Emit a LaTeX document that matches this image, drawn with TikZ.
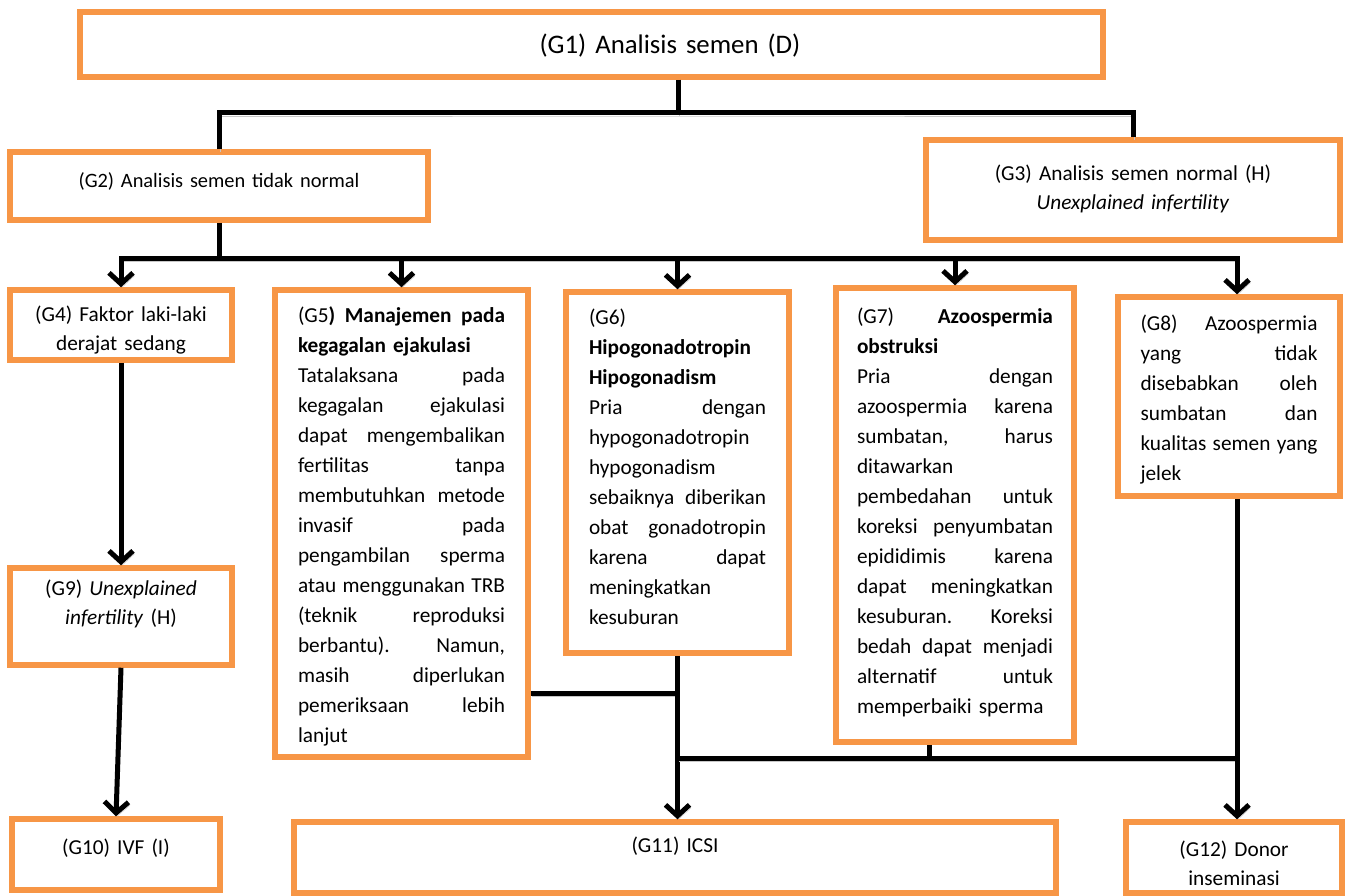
\documentclass[tikz,border=0pt]{standalone}
\usepackage{fontspec}
\setmainfont{Carlito}
\usetikzlibrary{arrows.meta}
\definecolor{boxorange}{HTML}{F79646}
% one justified line: words separated by \hfill
\newcommand\jl[1]{\leavevmode\hbox to\linewidth{#1}}

\begin{document}
\begin{tikzpicture}[x=1pt,y=-1pt,
  box/.style={draw=boxorange, line width=5.5pt, inner sep=0pt,
    font=\fontsize{21.3}{30}\selectfont},
  % width, text width, first baseline below top border, remaining height
  geom/.style n args={4}{minimum width=#1, text width=#2,
    text height=#3, text depth=#4},
  conn/.style={line width=5pt, black,
    preaction={draw=black!22, transform canvas={xshift=1.5pt,yshift=-3pt}}},
  spine/.style={conn, line cap=rect},
  arr/.style={conn, -{Straight Barb[length=11pt,width=24pt]}}]

\useasboundingbox (0,0) rectangle (1351,896);

% ---- boxes ----
\node[box, geom={1023}{1023}{42}{23}, align=center,
  font=\fontsize{26.8}{32}\selectfont] (g1) at (591.5,44.5)
  {\hspace*{157pt}(G1) Analisis semen (D)};

\node[box, geom={418}{380}{36}{32}, align=center,
  font=\fontsize{20.4}{30}\selectfont] (g2) at (219,186)
  {(G2) Analisis semen tidak normal};

\node[box, geom={414}{380}{41}{59}, align=center,
  font=\fontsize{21.3}{29}\selectfont] (g3) at (1133,190)
  {(G3) Analisis semen normal (H)\\\textit{Unexplained infertility}};

\node[box, geom={222}{200}{31}{39}, align=center,
  font=\fontsize{21.3}{29}\selectfont] (g4) at (121,325)
  {(G4) Faktor laki-laki\\derajat sedang};

\node[box, geom={253}{207}{32}{435}, align=left] (g5) at (401.5,523.5)
  {\jl{(G5\textbf{)\hfill Manajemen\hfill pada}}\\
   \textbf{kegagalan ejakulasi}\\
   \jl{Tatalaksana\hfill pada}\\
   \jl{kegagalan\hfill ejakulasi}\\
   \jl{dapat\hfill mengembalikan}\\
   \jl{fertilitas\hfill tanpa}\\
   \jl{membutuhkan\hfill metode}\\
   \jl{invasif\hfill pada}\\
   \jl{pengambilan\hfill sperma}\\
   \jl{atau\hfill menggunakan\hfill TRB}\\
   \jl{(teknik\hfill reproduksi}\\
   \jl{berbantu).\hfill Namun,}\\
   \jl{masih\hfill diperlukan}\\
   \jl{pemeriksaan\hfill lebih}\\
   lanjut};

\node[box, geom={223}{177}{32}{329}, align=left] (g6) at (677.5,472.5)
  {(G6)\\
   \textbf{Hipogonadotropin}\\
   \textbf{Hipogonadism}\\
   \jl{Pria\hfill dengan}\\
   hypogonadotropin\\
   hypogonadism\\
   \jl{sebaiknya\hfill diberikan}\\
   \jl{obat\hfill gonadotropin}\\
   \jl{karena\hfill dapat}\\
   meningkatkan\\
   kesuburan};

\node[box, geom={238}{196}{35}{419}, align=left] (g7) at (955,515)
  {\jl{(G7)\hfill\textbf{Azoospermia}}\\
   \textbf{obstruksi}\\
   \jl{Pria\hfill dengan}\\
   \jl{azoospermia\hfill karena}\\
   \jl{sumbatan,\hfill harus}\\
   ditawarkan\\
   \jl{pembedahan\hfill untuk}\\
   \jl{koreksi\hfill penyumbatan}\\
   \jl{epididimis\hfill karena}\\
   \jl{dapat\hfill meningkatkan}\\
   \jl{kesuburan.\hfill Koreksi}\\
   \jl{bedah\hfill dapat\hfill menjadi}\\
   \jl{alternatif\hfill untuk}\\
   memperbaiki sperma};

\node[box, geom={222}{177}{33}{166}, align=left] (g8) at (1229,396.5)
  {\jl{(G8)\hfill Azoospermia}\\
   \jl{yang\hfill tidak}\\
   \jl{disebabkan\hfill oleh}\\
   \jl{sumbatan\hfill dan}\\
   \jl{kualitas\hfill semen\hfill yang}\\
   jelek};

\node[box, geom={222}{200}{27}{70}, align=center,
  font=\fontsize{21.3}{29}\selectfont] (g9) at (121,616.5)
  {(G9) \textit{Unexplained}\\\textit{infertility} (H)};

\node[box, geom={208}{190}{35}{36}, align=center] (g10) at (116,854.5)
  {(G10) IVF (I)};

\node[box, geom={762}{700}{30}{41}, align=center] (g11) at (675,857.5)
  {(G11) ICSI};

\node[box, geom={216}{190}{34}{37}, align=center,
  font=\fontsize{21.3}{29}\selectfont] (g12) at (1234,857.5)
  {(G12) Donor\\inseminasi};

% ---- junction points ----
\coordinate (j1) at (678,113);
\coordinate (j2) at (0,258);
\coordinate (j3) at (0,693);
\coordinate (j4) at (0,758);
\coordinate (c8) at (1237,0);
\coordinate (t7) at (929,0);

% ---- connectors ----
\draw[conn] (g1.south -| j1) -- (j1);
\draw[conn] (g2.north) |- (j1) -| (g3.north);

\draw[conn] (g2.south) -- (g2.south |- j2);
\draw[spine] (g4.north |- j2) -- (c8 |- j2);
\foreach \n in {g4,g5,g6,g7}
  \draw[arr] (\n.north |- j2) -- (\n.north);
\draw[arr] (c8 |- j2) -- (c8 |- g8.north);

\draw[arr] (g4.south) -- (g9.north);
\draw[arr] (g9.south) -- (g10.north);

\draw[conn] (g5.east |- j3) -- (g6.south |- j3);
\draw[arr] (g6.south) -- (g6.south |- g11.north);
\draw[conn] (t7 |- g7.south) -- (t7 |- j4);
\draw[spine] (g6.south |- j4) -- (c8 |- j4);
\draw[arr] (c8 |- g8.south) -- (c8 |- g12.north);
\end{tikzpicture}
\end{document}
